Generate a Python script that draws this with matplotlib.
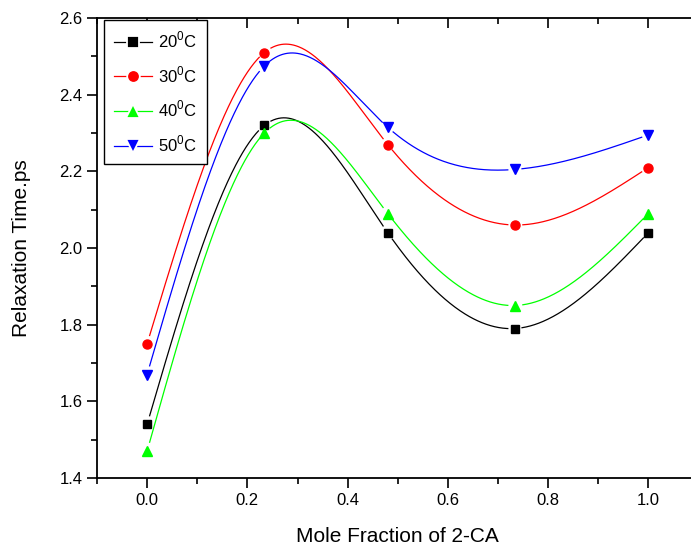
import numpy as np
import matplotlib
matplotlib.use("Agg")
import matplotlib.pyplot as plt
from matplotlib.ticker import MultipleLocator

plt.rcParams['font.family'] = ['Liberation Sans', 'DejaVu Sans']
plt.rcParams['mathtext.fontset'] = 'custom'
plt.rcParams['mathtext.rm'] = 'Liberation Sans'

mole_fraction = [0.0, 0.234, 0.48, 0.734, 1.0]
tau_20 = [1.54, 2.32, 2.04, 1.79, 2.04]
tau_30 = [1.75, 2.51, 2.27, 2.06, 2.21]
tau_40 = [1.47, 2.30, 2.09, 1.85, 2.09]
tau_50 = [1.67, 2.475, 2.315, 2.205, 2.295]
labels = ['20$^0$C', '30$^0$C', '40$^0$C', '50$^0$C']
colors = ['black', '#ff0000', '#00ff00', '#0000ff']
markers = ['s', 'o', '^', 'v']
msizes = [5.8, 6.5, 7.8, 7.8]


def natural_spline(x, y, xs):
    x = np.asarray(x, float); y = np.asarray(y, float)
    n = len(x)
    h = np.diff(x)
    A = np.zeros((n, n)); b = np.zeros(n)
    A[0, 0] = 1; A[-1, -1] = 1
    for i in range(1, n - 1):
        A[i, i - 1] = h[i - 1]
        A[i, i] = 2 * (h[i - 1] + h[i])
        A[i, i + 1] = h[i]
        b[i] = 6 * ((y[i + 1] - y[i]) / h[i] - (y[i] - y[i - 1]) / h[i - 1])
    M = np.linalg.solve(A, b)
    out = np.empty_like(xs)
    for k, t in enumerate(xs):
        i = min(max(np.searchsorted(x, t) - 1, 0), n - 2)
        dx1 = x[i + 1] - t; dx0 = t - x[i]
        out[k] = (M[i] * dx1**3 + M[i + 1] * dx0**3) / (6 * h[i]) \
            + (y[i] / h[i] - M[i] * h[i] / 6) * dx1 \
            + (y[i + 1] / h[i] - M[i + 1] * h[i] / 6) * dx0
    return out


fig = plt.figure(figsize=(6.91, 5.48), dpi=100)
ax = fig.add_axes([97 / 691, 1 - 478 / 548, 601.5 / 691, 460 / 548])
ax.set_xlim(-0.1, 1.1)
ax.set_ylim(1.4, 2.6)

xs = np.linspace(mole_fraction[0], mole_fraction[-1], 600)
gap = 7.0
for ys_data, lab, c, m, ms in zip([tau_20, tau_30, tau_40, tau_50], labels, colors, markers, msizes):
    ys = natural_spline(mole_fraction, ys_data, xs)
    disp = ax.transData.transform(np.column_stack([xs, ys]))
    pts = ax.transData.transform(np.column_stack([mole_fraction, ys_data]))
    mask = np.zeros(len(xs), bool)
    for p in pts:
        mask |= np.hypot(disp[:, 0] - p[0], disp[:, 1] - p[1]) < gap
    ys_m = ys.copy(); ys_m[mask] = np.nan
    ax.plot(xs, ys_m, color=c, lw=0.9)
    ax.plot(mole_fraction, ys_data, linestyle='none', marker=m, color=c, ms=ms)
    ax.plot([], [], color=c, lw=0.9, marker=m, ms=ms + 2.6, markerfacecolor=c,
            markeredgecolor='white', markeredgewidth=1.3, label=lab)

ax.xaxis.set_major_locator(MultipleLocator(0.2))
ax.xaxis.set_minor_locator(MultipleLocator(0.1))
ax.yaxis.set_major_locator(MultipleLocator(0.2))
ax.yaxis.set_minor_locator(MultipleLocator(0.1))
ax.xaxis.set_major_formatter(plt.FormatStrFormatter('%.1f'))
ax.yaxis.set_major_formatter(plt.FormatStrFormatter('%.1f'))
ax.tick_params(axis='both', which='major', direction='out', length=7, width=1.2, labelsize=12)
ax.tick_params(axis='both', which='minor', direction='out', length=4, width=1.2)
ax.tick_params(axis='x', top=True, which='both')
for s in ax.spines.values():
    s.set_linewidth(1.3)

# top ticks inward
for t in ax.xaxis.get_major_ticks():
    t.tick2line.set_marker(3)
for t in ax.xaxis.get_minor_ticks():
    t.tick2line.set_marker(3)

ax.set_xlabel('Mole Fraction of 2-CA', fontsize=15, labelpad=14)
ax.set_ylabel('Relaxation Time.ps', fontsize=15, labelpad=20)

leg = ax.legend(loc='upper left', bbox_to_anchor=(7 / 601.5, 1 - 2 / 460), fontsize=12,
                frameon=True, fancybox=False, edgecolor='black', framealpha=1,
                handlelength=2.3, numpoints=1, borderpad=0.6, labelspacing=0.84,
                handletextpad=0.35, borderaxespad=0)
leg.get_frame().set_linewidth(1.0)

fig.savefig('out.png', dpi=100)
